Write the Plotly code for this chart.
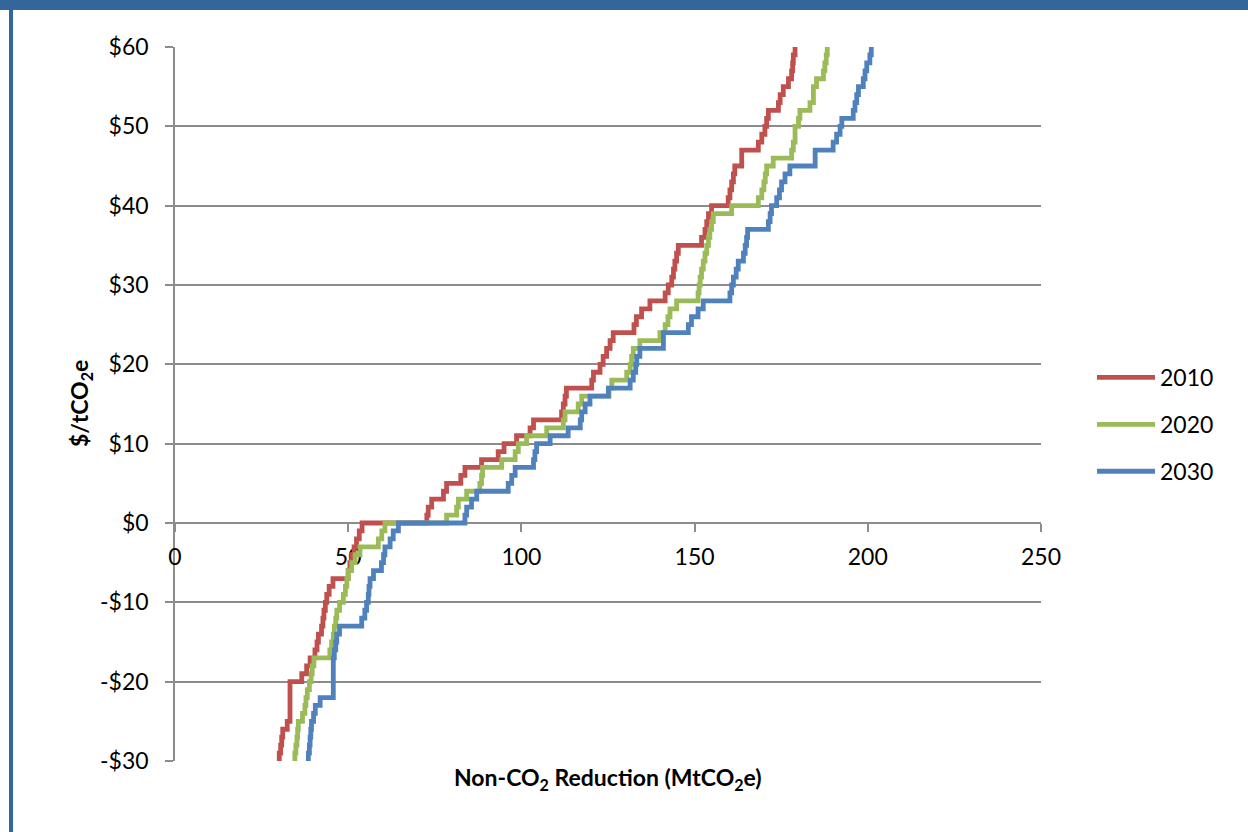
import plotly.graph_objects as go

# ---------------- data ----------------
series_names = ["2010", "2020", "2030"]

x_2010 = [30.1, 30.5, 30.8, 31.1, 32.4, 33.2, 36.6, 38.0, 39.0, 40.4, 41.0, 41.4, 42.3, 42.7, 43.0,
          43.4, 43.8, 44.5, 45.6, 50.0, 50.5, 51.0, 51.7, 52.4, 53.2, 54.0, 72.7,
          73.1, 74.1, 77.5, 78.4, 82.5, 83.7, 88.5, 93.3, 95.0, 98.6, 102.5, 103.5, 111.6,
          112.1, 112.6, 113.0, 120.3, 120.8, 122.7, 123.6, 124.6, 125.6, 126.5, 132.5,
          133.2, 134.7, 137.1, 141.5, 142.4, 143.4, 143.9, 144.3, 144.8, 145.3, 152.0,
          153.0, 153.5, 154.0, 154.9, 159.7, 160.2, 160.7, 161.2, 161.6, 163.6, 168.4,
          169.4, 170.3, 170.8, 171.3, 174.2, 174.7, 175.6, 177.1, 178.0, 178.3, 178.5, 179.0, 179.3]
y_2010 = [-30, -29, -28, -27, -26, -25, -20, -19, -18, -17, -16, -15, -14, -13, -12,
          -11, -10, -9, -8, -7, -6, -5, -4, -3, -2, -1, 0,
          1, 2, 3, 4, 5, 6, 7, 8, 9, 10, 11, 12, 13,
          14, 15, 16, 17, 18, 19, 20, 21, 22, 23, 24,
          25, 26, 27, 28, 29, 30, 31, 32, 33, 34, 35,
          36, 37, 38, 39, 40, 41, 42, 43, 44, 45, 47,
          48, 49, 50, 51, 52, 53, 54, 55, 56, 57, 58, 59, 60]

x_2020 = [34.6, 34.9, 35.2, 35.4, 35.6, 36.8, 37.5, 37.8, 38.2, 38.8, 39.3, 39.6, 40.1, 44.7,
          45.2, 45.7, 46.0, 46.4, 46.7, 47.5, 48.6, 49.2, 49.6, 50.0, 51.0, 52.0, 53.4, 58.7,
          59.7, 60.6, 78.4, 81.3, 81.8, 84.2, 88.0, 88.5, 88.8, 94.3, 98.2, 99.1, 101.5,
          107.3, 112.1, 112.6, 116.4, 117.4, 125.3, 126.1, 130.4, 131.4, 131.8, 132.3,
          134.2, 140.0, 141.5, 142.3, 142.9, 144.8, 151.0, 151.3, 151.6, 152.0, 152.5,
          153.0, 153.5, 154.0, 154.4, 154.9, 155.4, 156.8, 160.7, 168.4, 169.4, 170.0,
          170.4, 170.8, 172.7, 178.0, 178.5, 179.0, 180.0, 180.4, 183.3, 184.3, 185.2,
          187.2, 187.6, 188.0, 188.3, 188.6]
y_2020 = [-30, -29, -28, -27, -26, -25, -24, -23, -22, -21, -20, -19, -18, -17,
          -16, -15, -14, -13, -12, -11, -10, -9, -8, -7, -6, -5, -4, -3,
          -2, -1, 0, 1, 2, 3, 4, 5, 6, 7, 8, 9, 10,
          11, 12, 13, 14, 15, 16, 17, 18, 19, 20, 21,
          22, 23, 24, 25, 26, 27, 28, 29, 30, 31, 32,
          33, 34, 35, 36, 37, 38, 39, 39, 40, 41, 42,
          43, 44, 45, 46, 47, 48, 50, 51, 52, 53, 55,
          56, 57, 58, 59, 60]

x_2030 = [38.5, 38.8, 39.0, 39.2, 39.4, 40.0, 40.5, 40.8, 41.9, 45.7, 46.0, 46.4, 46.7, 47.5,
          53.9, 54.8, 55.3, 55.8, 56.0, 56.3, 57.3, 59.6, 60.2, 60.6, 62.1, 63.0, 64.5,
          83.7, 84.2, 85.6, 87.1, 96.2, 97.2, 98.2, 103.5, 103.9, 104.4, 108.3, 113.5,
          117.0, 117.4, 118.4, 119.8, 125.1, 131.4, 132.3, 133.0, 133.3, 134.2, 141.0,
          148.2, 149.1, 151.0, 152.5, 160.2, 160.7, 161.2, 162.0, 162.6, 164.1, 164.6,
          165.0, 165.3, 171.3, 171.8, 172.2, 173.7, 174.5, 175.1, 176.1, 177.5, 184.8,
          190.0, 191.0, 192.0, 192.5, 195.8, 196.3, 196.8, 197.3, 198.7, 199.2, 199.7,
          200.6, 201.0, 201.3]
y_2030 = [-30, -29, -28, -27, -26, -25, -24, -23, -23, -22, -17, -16, -15, -14,
          -13, -12, -11, -10, -9, -8, -7, -6, -5, -4, -3, -2, -1,
          0, 1, 2, 3, 4, 5, 6, 7, 8, 9, 10, 11,
          12, 13, 14, 15, 16, 17, 18, 19, 20, 21, 22,
          24, 25, 26, 27, 28, 29, 30, 31, 32, 33, 34,
          35, 36, 37, 38, 39, 40, 41, 42, 43, 44, 45,
          47, 48, 49, 50, 51, 52, 53, 54, 55, 56, 57,
          58, 59, 60]

y_tick_vals = [-30, -20, -10, 0, 10, 20, 30, 40, 50, 60]
y_tick_text = ["-$30", "-$20", "-$10", "$0", "$10", "$20", "$30", "$40", "$50", "$60"]
x_tick_vals = [0, 50, 100, 150, 200, 250]
x_tick_text = ["0", "50", "100", "150", "200", "250"]

# ---------------- styling ----------------
colors = ["#C0504D", "#9BBB59", "#4F81BD"]
FONT = "Lato, 'Open Sans', sans-serif"
GRID = "#8C8C8C"
FRAME = "#33679C"

W, H = 1248, 832
L, R, T, B = 175, 1041, 47, 761  # plot area in pixels


def px_x(p):
    return (p - L) / (R - L)


def px_y(p):
    return (B - p) / (B - T)


fig = go.Figure()
for name, xs, ys, c in zip(series_names,
                           [x_2010, x_2020, x_2030],
                           [y_2010, y_2020, y_2030], colors):
    fig.add_trace(go.Scatter(x=xs, y=ys, mode="lines", name=name,
                             line=dict(color=c, width=4.8, shape="vh"),
                             legendgroup=name))

fig.update_layout(
    width=W, height=H,
    margin=dict(l=L, r=W - R, t=T, b=H - B),
    paper_bgcolor="white", plot_bgcolor="white",
    font=dict(family=FONT, size=23, color="black"),
    showlegend=True,
    legend=dict(x=px_x(1092), y=px_y(356), xanchor="left", yanchor="top",
                font=dict(size=23), itemwidth=58, tracegroupgap=14,
                bgcolor="rgba(0,0,0,0)"),
    xaxis=dict(range=[0, 250], tickvals=x_tick_vals, ticktext=x_tick_text,
               anchor="free", position=30 / 90, showline=True, linecolor=GRID,
               linewidth=1.5, ticks="outside", ticklen=8, tickcolor=GRID,
               tickwidth=1.5, showgrid=False, zeroline=False, layer="below traces",
               ticklabelstandoff=6, tickfont=dict(size=23)),
    xaxis2=dict(range=[0, 250], tickvals=x_tick_vals, overlaying="x",
                anchor="free", position=30 / 90, side="top", showline=False,
                ticks="outside", ticklen=8, tickcolor=GRID, tickwidth=1.5,
                showticklabels=False, showgrid=False, zeroline=False,
                layer="below traces"),
    yaxis=dict(range=[-30, 60], tickvals=y_tick_vals, ticktext=y_tick_text,
               showline=True, linecolor=GRID, linewidth=1.5, ticks="outside",
               ticklen=8, tickcolor=GRID, tickwidth=1.5, showgrid=True,
               gridcolor=GRID, gridwidth=1.5, zeroline=False,
               layer="below traces", ticklabelstandoff=12,
               tickfont=dict(size=23)),
)

# axis titles
fig.add_annotation(text="<b>Non-CO<sub>2</sub> Reduction (MtCO<sub>2</sub>e)</b>",
                   xref="paper", yref="paper", x=0.5, y=px_y(779),
                   xanchor="center", yanchor="middle", showarrow=False,
                   font=dict(family=FONT, size=23))
fig.add_annotation(text="<b>$/tCO<sub>2</sub>e</b>", textangle=-90,
                   xref="paper", yref="paper", x=px_x(80), y=px_y(404),
                   xanchor="center", yanchor="middle", showarrow=False,
                   font=dict(family=FONT, size=23))

# blue frame of the reference picture
fig.add_shape(type="rect", xref="paper", yref="paper",
              x0=px_x(0), x1=px_x(W), y0=px_y(10), y1=px_y(0),
              fillcolor=FRAME, line=dict(width=0), layer="above")
fig.add_shape(type="rect", xref="paper", yref="paper",
              x0=px_x(9), x1=px_x(13), y0=px_y(H), y1=px_y(0),
              fillcolor=FRAME, line=dict(width=0), layer="above")

fig.write_html("out.html",
               config={"displayModeBar": False},
               post_script="document.body.style.margin='0';"
                           "document.body.style.overflow='hidden';")
